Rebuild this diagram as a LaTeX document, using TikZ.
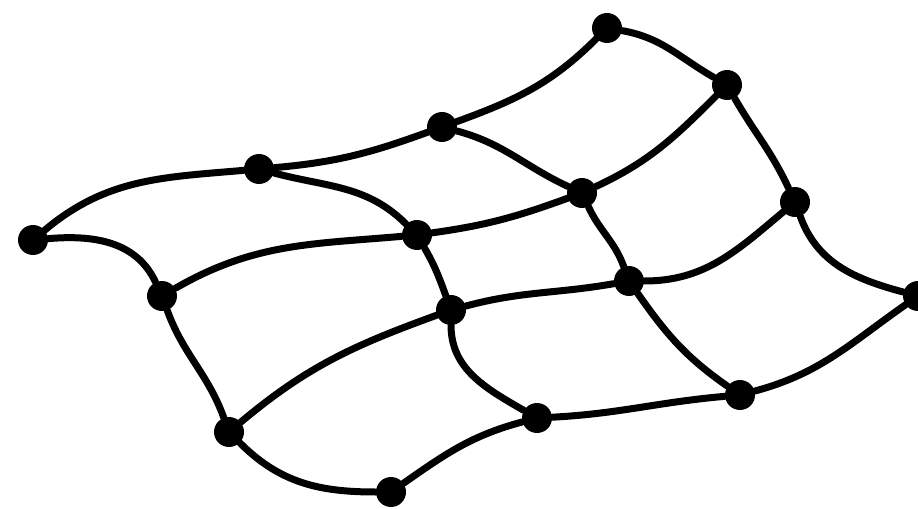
\documentclass[tikz,border=0pt]{standalone}
\usepackage{tikz}
\usetikzlibrary{positioning}

\begin{document}
\begin{tikzpicture}[x=0.02cm, y=-0.02cm,
  knot/.style={circle, fill=black, inner sep=0pt, minimum size=0.6cm},
  thread/.style={line width=0.14cm, line cap=round}]
\useasboundingbox (0,0) rectangle (918,509);

% Back row
\node[knot] (a1) at (33,240) {};
\node[knot] (a2) at (259,169) {};
\node[knot] (a3) at (442,127) {};
\node[knot] (a4) at (607,28) {};

% Second row
\node[knot] (b1) at (162,296) {};
\node[knot] (b2) at (417,235) {};
\node[knot] (b3) at (582,193) {};
\node[knot] (b4) at (727,85) {};

% Third row
\node[knot] (c1) at (229,432) {};
\node[knot] (c2) at (451,310) {};
\node[knot] (c3) at (629,281) {};
\node[knot] (c4) at (795,202) {};

% Front row
\node[knot] (d1) at (391,492) {};
\node[knot] (d2) at (537,418) {};
\node[knot] (d3) at (740,395) {};
\node[knot] (d4) at (918,296) {};

% Threads along the rows
\draw[thread] (a1) to[out=40, in=185] (a2);
\draw[thread] (a2) to[out=5, in=200] (a3);
\draw[thread] (a3) to[out=20, in=225] (a4);
\draw[thread] (b1) to[out=30, in=185] (b2);
\draw[thread] (b2) to[out=8, in=200] (b3);
\draw[thread] (b3) to[out=25, in=225] (b4);
\draw[thread] (c1) to[out=40, in=200] (c2);
\draw[thread] (c2) to[out=15, in=190] (c3);
\draw[thread] (c3) to[out=0, in=220] (c4);
\draw[thread] (d1) to[out=35, in=195] (d2);
\draw[thread] (d2) to[out=3, in=185] (d3);
\draw[thread] (d3) to[out=15, in=215] (d4);

% Threads across the rows
\draw[thread] (a1) to[out=5, in=115] (b1);
\draw[thread] (b1) to[out=-70, in=110] (c1);
\draw[thread] (c1) to[out=-45, in=180] (d1);
\draw[thread] (a2) to[out=-15, in=135] (b2);
\draw[thread] (b2) to[out=-60, in=110] (c2);
\draw[thread] (c2) to[out=-90, in=150] (d2);
\draw[thread] (a3) to[out=-15, in=155] (b3);
\draw[thread] (b3) to[out=-65, in=110] (c3);
\draw[thread] (c3) to[out=-55, in=145] (d3);
\draw[thread] (a4) to[out=-10, in=150] (b4);
\draw[thread] (b4) to[out=-60, in=115] (c4);
\draw[thread] (c4) to[out=-70, in=165] (d4);

\end{tikzpicture}
\end{document}
